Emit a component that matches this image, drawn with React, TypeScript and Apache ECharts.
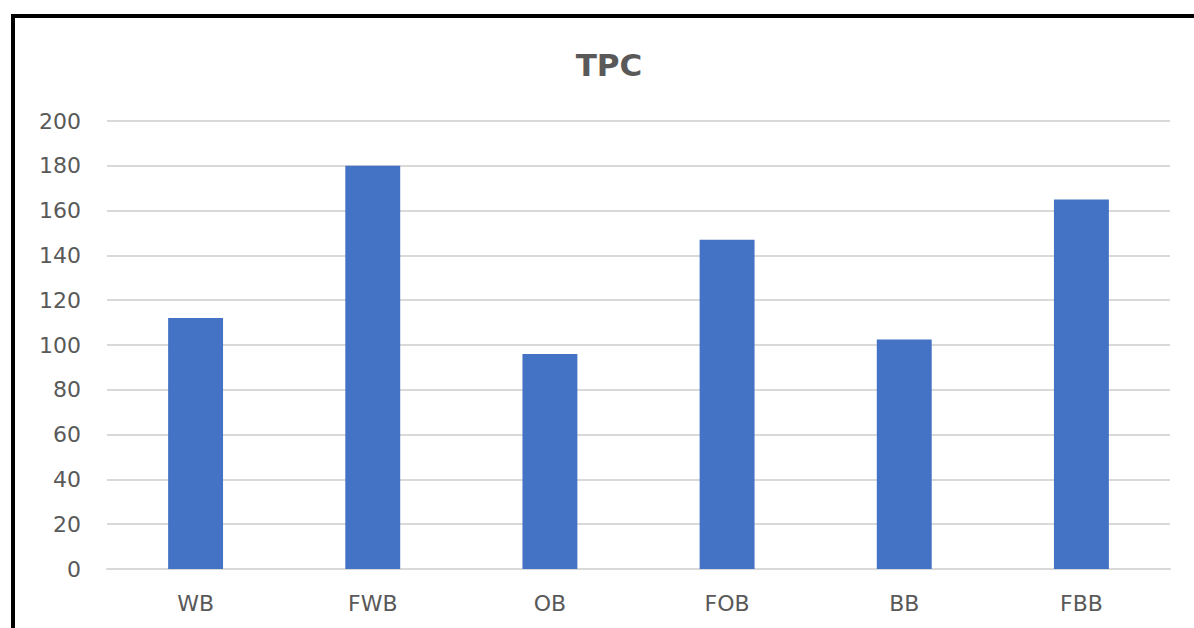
import React, { useEffect, useRef } from "react";
import * as echarts from "echarts";

const categories = ["WB", "FWB", "OB", "FOB", "BB", "FBB"];
const tpcValues = [112, 180, 96, 147, 102.5, 165];
const yTicks = { min: 0, max: 200, interval: 20 };
const titleText = "TPC";

export default function App() {
  const ref = useRef<HTMLDivElement>(null);
  useEffect(() => {
    if (!ref.current) return;
    const chart = echarts.init(ref.current, undefined, { renderer: "svg" });
    chart.setOption({
      animation: false,
      backgroundColor: "#ffffff",
      title: {
        text: titleText,
        left: 604,
        textAlign: "center",
        top: 44,
        textStyle: { fontFamily: "DejaVu Sans", fontWeight: "bold", fontSize: 31, color: "#595959" },
      },
      graphic: [
        { type: "line", shape: { x1: 13, y1: 14, x2: 13, y2: 628 }, style: { stroke: "#000", lineWidth: 4 } },
        { type: "line", shape: { x1: 11, y1: 16, x2: 1194, y2: 16 }, style: { stroke: "#000", lineWidth: 4 } },
      ],
      grid: { left: 107, right: 24, top: 121, bottom: 59, containLabel: false },
      xAxis: {
        type: "category",
        data: categories,
        axisTick: { show: false },
        axisLine: { lineStyle: { color: "#d9d9d9", width: 2 } },
        axisLabel: { color: "#595959", fontSize: 22, fontFamily: "DejaVu Sans", margin: 23 },
      },
      yAxis: {
        type: "value",
        min: yTicks.min,
        max: yTicks.max,
        interval: yTicks.interval,
        axisLine: { show: false },
        axisTick: { show: false },
        splitLine: { lineStyle: { color: "#d9d9d9", width: 2 } },
        axisLabel: { color: "#595959", fontSize: 22, fontFamily: "DejaVu Sans", margin: 26 },
      },
      series: [
        {
          type: "bar",
          data: tpcValues,
          barWidth: "31%",
          itemStyle: { color: "#4472c4" },
        },
      ],
    });
    return () => chart.dispose();
  }, []);
  return (
    <div
      ref={ref}
      style={{ position: "fixed", left: 0, top: 0, width: 1194, height: 628 }}
    />
  );
}
